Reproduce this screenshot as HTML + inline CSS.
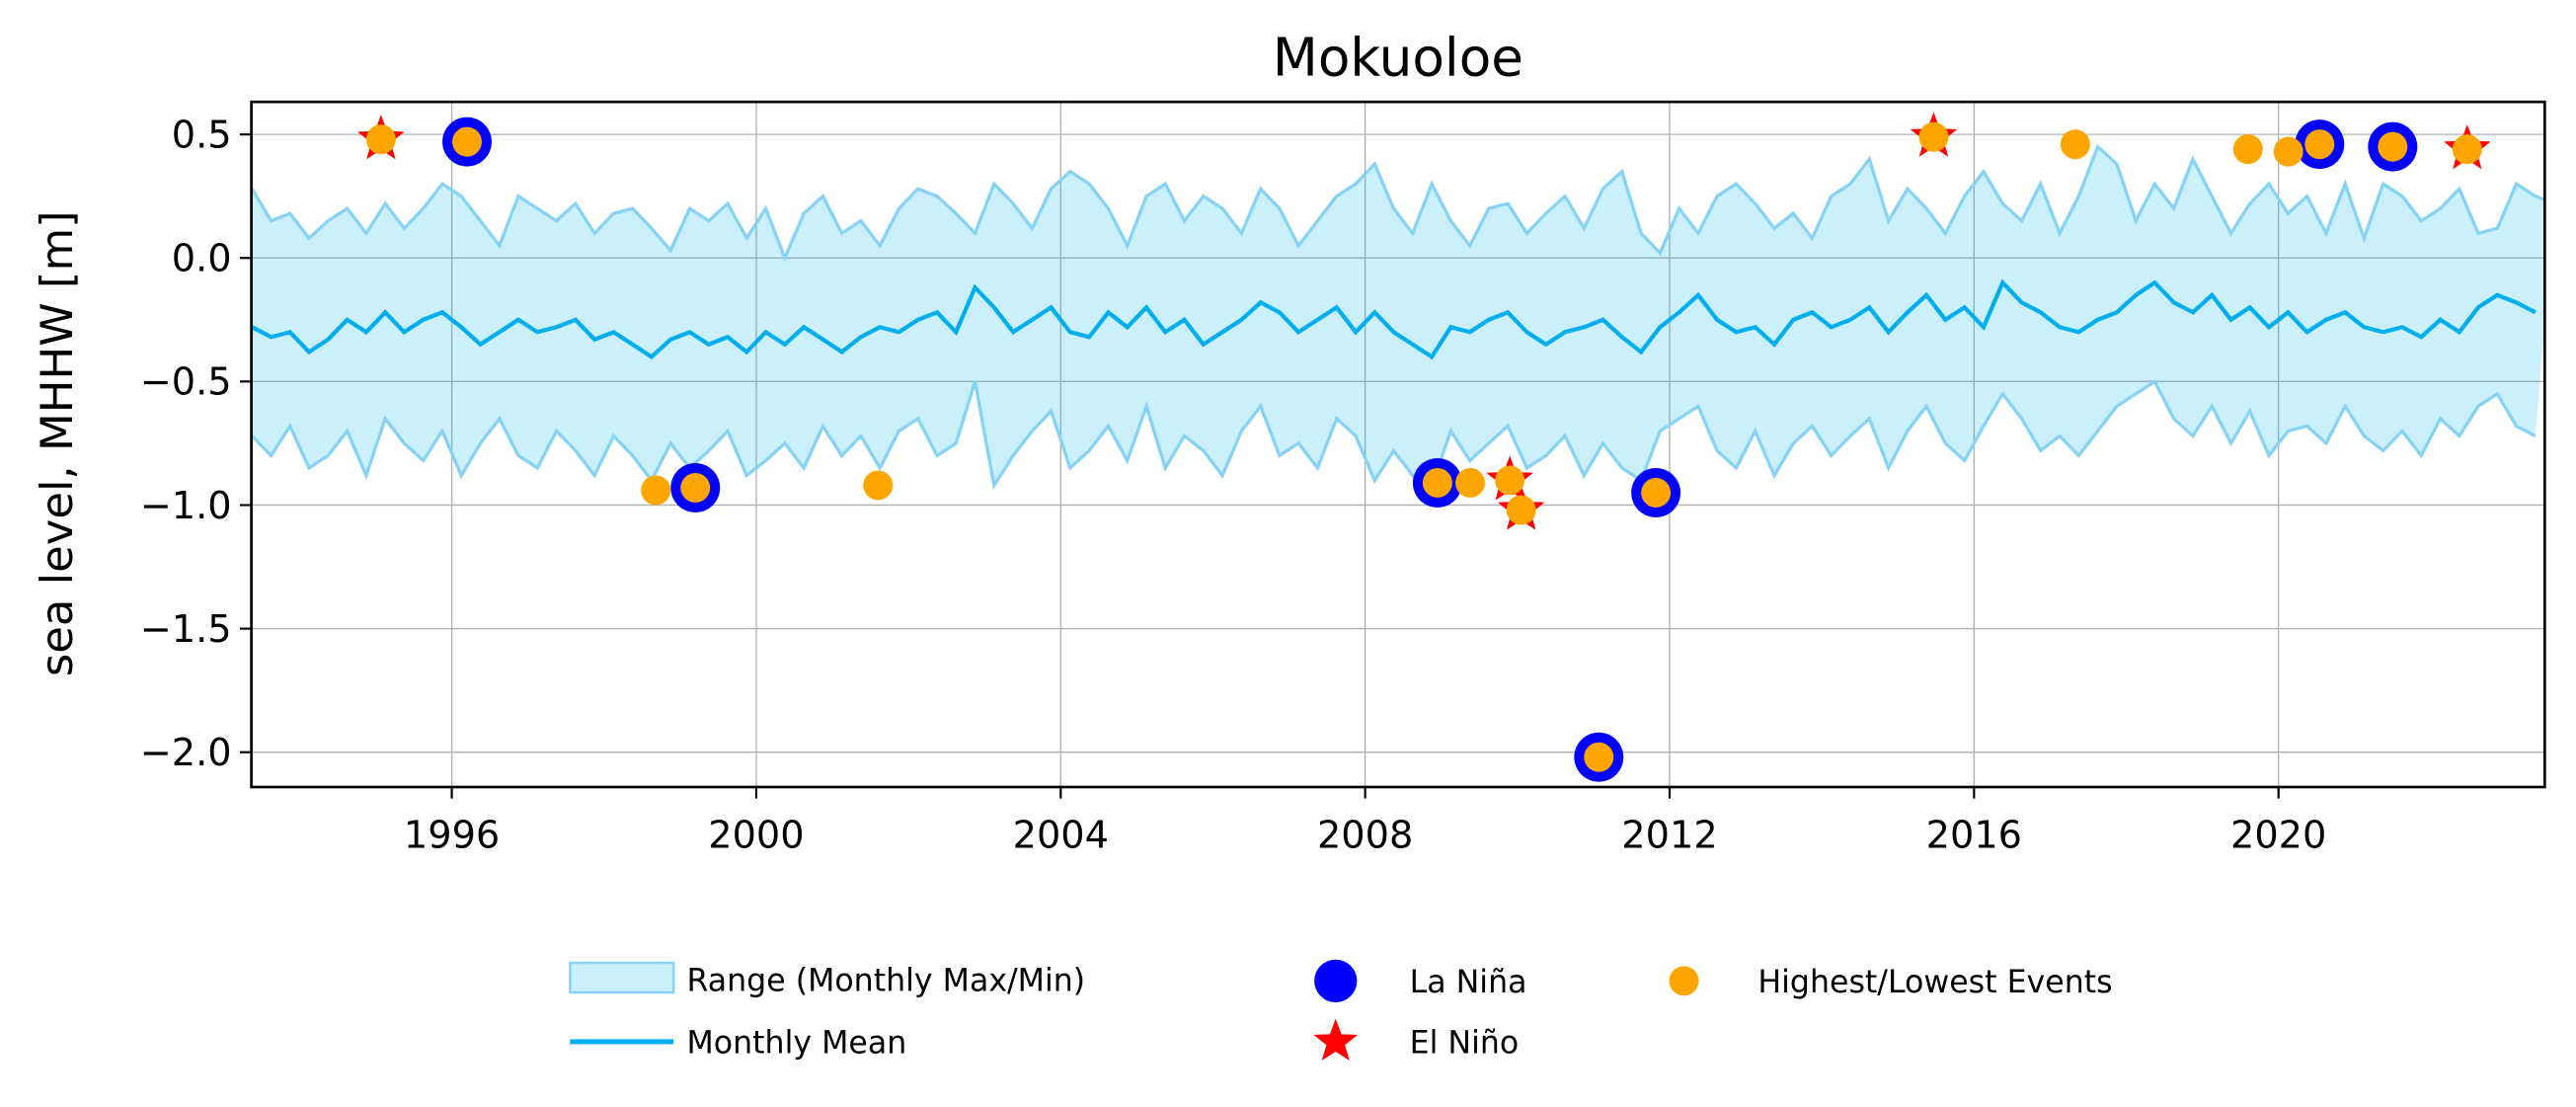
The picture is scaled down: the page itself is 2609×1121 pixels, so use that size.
<!DOCTYPE html>
<html><head><meta charset="utf-8">
<style>
body{margin:0;background:#fff;font-family:"DejaVu Sans","Liberation Sans",sans-serif;}
svg{display:block}
</style></head>
<body>
<svg id="chart" width="2609" height="1121" viewBox="0 0 1568 673.73" style="position:absolute;left:0;top:0" font-family="DejaVu Sans, Liberation Sans, sans-serif"></svg>
<script>
const startYear = 1993.375;
const stepYears = 0.25;
const upperValues = [0.28,0.15,0.18,0.08, 0.15,0.2,0.1,0.22, 0.12,0.2,0.3,0.25, 0.15,0.05,0.25,0.2, 0.15,0.22,0.1,0.18, 0.2,0.12,0.03,0.2, 0.15,0.22,0.08,0.2, 0.0,0.18,0.25,0.1, 0.15,0.05,0.2,0.28, 0.25,0.18,0.1,0.3, 0.22,0.12,0.28,0.35, 0.3,0.2,0.05,0.25, 0.3,0.15,0.25,0.2, 0.1,0.28,0.2,0.05, 0.15,0.25,0.3,0.38, 0.2,0.1,0.3,0.15, 0.05,0.2,0.22,0.1, 0.18,0.25,0.12,0.28, 0.35,0.1,0.02,0.2, 0.1,0.25,0.3,0.22, 0.12,0.18,0.08,0.25, 0.3,0.4,0.15,0.28, 0.2,0.1,0.25,0.35, 0.22,0.15,0.3,0.1, 0.25,0.45,0.38,0.15, 0.3,0.2,0.4,0.25, 0.1,0.22,0.3,0.18, 0.25,0.1,0.3,0.08, 0.3,0.25,0.15,0.2, 0.28,0.1,0.12,0.3,0.25,0.22];
const meanValues = [-0.28,-0.32,-0.3,-0.38, -0.33,-0.25,-0.3,-0.22, -0.3,-0.25,-0.22,-0.28, -0.35,-0.3,-0.25,-0.3, -0.28,-0.25,-0.33,-0.3, -0.35,-0.4,-0.33,-0.3, -0.35,-0.32,-0.38,-0.3, -0.35,-0.28,-0.33,-0.38, -0.32,-0.28,-0.3,-0.25, -0.22,-0.3,-0.12,-0.2, -0.3,-0.25,-0.2,-0.3, -0.32,-0.22,-0.28,-0.2, -0.3,-0.25,-0.35,-0.3, -0.25,-0.18,-0.22,-0.3, -0.25,-0.2,-0.3,-0.22, -0.3,-0.35,-0.4,-0.28, -0.3,-0.25,-0.22,-0.3, -0.35,-0.3,-0.28,-0.25, -0.32,-0.38,-0.28,-0.22, -0.15,-0.25,-0.3,-0.28, -0.35,-0.25,-0.22,-0.28, -0.25,-0.2,-0.3,-0.22, -0.15,-0.25,-0.2,-0.28, -0.1,-0.18,-0.22,-0.28, -0.3,-0.25,-0.22,-0.15, -0.1,-0.18,-0.22,-0.15, -0.25,-0.2,-0.28,-0.22, -0.3,-0.25,-0.22,-0.28, -0.3,-0.28,-0.32,-0.25, -0.3,-0.2,-0.15,-0.18, -0.22];
const lowerValues = [-0.72,-0.8,-0.68,-0.85, -0.8,-0.7,-0.88,-0.65, -0.75,-0.82,-0.7,-0.88, -0.75,-0.65,-0.8,-0.85, -0.7,-0.78,-0.88,-0.72, -0.8,-0.9,-0.75,-0.85, -0.78,-0.7,-0.88,-0.82, -0.75,-0.85,-0.68,-0.8, -0.72,-0.85,-0.7,-0.65, -0.8,-0.75,-0.5,-0.92, -0.8,-0.7,-0.62,-0.85, -0.78,-0.68,-0.82,-0.6, -0.85,-0.72,-0.78,-0.88, -0.7,-0.6,-0.8,-0.75, -0.85,-0.65,-0.72,-0.9, -0.78,-0.88,-0.92,-0.7, -0.82,-0.75,-0.68,-0.85, -0.8,-0.72,-0.88,-0.75, -0.85,-0.9,-0.7,-0.65, -0.6,-0.78,-0.85,-0.7, -0.88,-0.75,-0.68,-0.8, -0.72,-0.65,-0.85,-0.7, -0.6,-0.75,-0.82,-0.68, -0.55,-0.65,-0.78,-0.72, -0.8,-0.7,-0.6,-0.55, -0.5,-0.65,-0.72,-0.6, -0.75,-0.62,-0.8,-0.7, -0.68,-0.75,-0.6,-0.72, -0.78,-0.7,-0.8,-0.65, -0.72,-0.6,-0.55,-0.68, -0.72];
const laNinaYears = [1996.2,1999.2,2008.95,2011.07,2011.82,2020.54,2021.5];
const laNinaValues = [0.47,-0.93,-0.91,-2.02,-0.95,0.46,0.45];
const elNinoYears = [1995.07,2009.9,2010.05,2015.47,2022.48];
const elNinoValues = [0.48,-0.9,-1.02,0.49,0.44];
const eventYears = [1995.07,1996.2,1998.68,1999.2,2001.6,2008.95,2009.38,2009.9,2010.05,2011.07,2011.82,2015.47,2017.33,2019.6,2020.13,2020.54,2021.5,2022.48];
const eventValues = [0.48,0.47,-0.94,-0.93,-0.92,-0.91,-0.91,-0.9,-1.02,-2.02,-0.95,0.49,0.46,0.44,0.43,0.46,0.45,0.44];
const xTicks = [1996,2000,2004,2008,2012,2016,2020];
const yTicks = [0.5,0.0,-0.5,-1.0,-1.5,-2.0];

const L=153,R=1549,T=62,B=479;
function xs(y){return 275+(y-1996)*46.33;}
function ys(v){return 157-v*150.4;}
const svg=document.getElementById('chart');
const NS='http://www.w3.org/2000/svg';
function mk(tag,attrs,parent){const e=document.createElementNS(NS,tag);for(const k in attrs)e.setAttribute(k,attrs[k]);(parent||svg).appendChild(e);return e;}

const clip=mk('clipPath',{id:'pc'});mk('rect',{x:L,y:T,width:R-L,height:B-T},clip);
xTicks.forEach(t=>{const g=mk('line',{x1:xs(t),x2:xs(t),y1:T,y2:B,stroke:'#b0b0b0','stroke-width':0.8});

});
yTicks.forEach(t=>{const g=mk('line',{x1:L,x2:R,y1:ys(t),y2:ys(t),stroke:'#b0b0b0','stroke-width':0.8});

});
const plot=mk('g',{'clip-path':'url(#pc)'});


function px(i){return xs(startYear+i*stepYears);}
let up=upperValues.map((v,i)=>px(i).toFixed(1)+','+ys(v).toFixed(1));
let lo=lowerValues.map((v,i)=>px(i).toFixed(1)+','+ys(v).toFixed(1));
const band=mk('polygon',{points:up.concat(lo.slice().reverse()).join(' '),fill:'#00aeef','fill-opacity':0.2,stroke:'none'},plot);


const upl=mk('polyline',{points:up.join(' '),fill:'none',stroke:'#87d3f5','stroke-width':2},plot);


const lol=mk('polyline',{points:lo.join(' '),fill:'none',stroke:'#87d3f5','stroke-width':2},plot);


const ml=mk('polyline',{points:meanValues.map((v,i)=>px(i).toFixed(1)+','+ys(v).toFixed(1)).join(' '),fill:'none',stroke:'#00aeef','stroke-width':2.5},plot);


function star(cx,cy,r){let p=[];for(let k=0;k<10;k++){const a=-Math.PI/2+k*Math.PI/5;const rr=k%2?r*0.42:r;p.push((cx+rr*Math.cos(a)).toFixed(1)+','+(cy+rr*Math.sin(a)).toFixed(1));}return p.join(' ');}
laNinaYears.forEach((y,i)=>{const c=mk('circle',{cx:xs(y),cy:ys(laNinaValues[i]),r:15,fill:'#0000ff'});

});
elNinoYears.forEach((y,i)=>{const s=mk('polygon',{points:star(xs(y),ys(elNinoValues[i]),15),fill:'#ff0000'});

});
eventYears.forEach((y,i)=>{const c=mk('circle',{cx:xs(y),cy:ys(eventValues[i]),r:9,fill:'#ffa500'});

});
const fr=mk('rect',{x:L,y:T,width:R-L,height:B-T,fill:'none',stroke:'#000','stroke-width':1.6});


xTicks.forEach(t=>{mk('line',{x1:xs(t),x2:xs(t),y1:B,y2:B+7,stroke:'#000','stroke-width':1.3});
const tx=mk('text',{x:xs(t),y:B+37,'text-anchor':'middle','font-size':23});tx.textContent=t;

});
yTicks.forEach(t=>{mk('line',{x1:L-7,x2:L,y1:ys(t),y2:ys(t),stroke:'#000','stroke-width':1.3});
const tx=mk('text',{x:L-12,y:ys(t)+8,'text-anchor':'end','font-size':23});tx.textContent=t.toFixed(1).replace('-','\u2212');

});
</script>
<svg width="2609" height="1121" viewBox="0 0 1568 673.73" style="position:absolute;left:0;top:0" font-family="DejaVu Sans, Liberation Sans, sans-serif">
<text x="851" y="46" text-anchor="middle" font-size="32">Mokuoloe</text>
<text transform="translate(44,270) rotate(-90)" text-anchor="middle" font-size="27">sea level, MHHW [m]</text>
<g font-size="19">
<rect x="347" y="586" width="63" height="18" fill="#00aeef" fill-opacity="0.2" stroke="#87d3f5" stroke-width="1.5"/>
<text x="418" y="603">Range (Monthly Max/Min)</text>
<line x1="347" x2="410" y1="634" y2="634" stroke="#00aeef" stroke-width="3"/>
<text x="418" y="641">Monthly Mean</text>
<circle cx="813" cy="597" r="13" fill="#0000ff"/>
<text x="858" y="604">La Niña</text>
<polygon points="813,620 816.5,629.5 826.5,629.8 818.6,636 821.5,645.5 813,640 804.5,645.5 807.4,636 799.5,629.8 809.5,629.5" fill="#ff0000"/>
<text x="858" y="641">El Niño</text>
<circle cx="1025" cy="597" r="9" fill="#ffa500"/>
<text x="1070" y="604">Highest/Lowest Events</text>
</g>
</svg>
</body></html>
